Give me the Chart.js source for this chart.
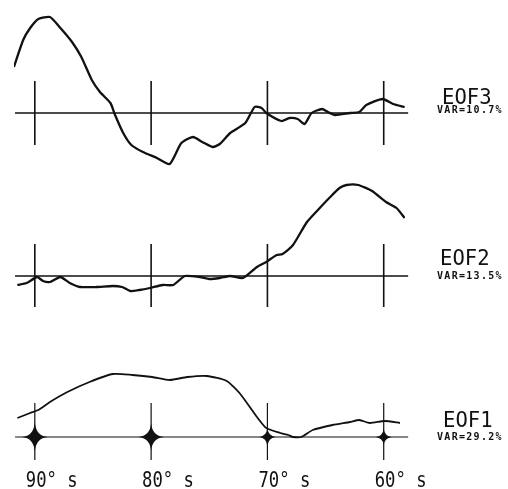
<!DOCTYPE html>
<html>
<head>
<meta charset="utf-8">
<script src="https://cdn.jsdelivr.net/npm/chart.js@4/dist/chart.umd.min.js"></script>
<style>
html,body{margin:0;padding:0;background:#fff;}
#wrap{position:relative;width:508px;height:489px;}
canvas{display:block;}
</style>
</head>
<body>
<div id="wrap"><canvas id="c" width="508" height="489"></canvas></div>
<script>
// ---- data (latitude in degrees south, EOF amplitude in arbitrary units) ----
const eof3Lat = [91.8,91.0,90.4,89.7,88.7,87.8,86.8,86.0,85.1,84.4,83.5,83.1,82.4,81.7,80.7,79.5,78.4,77.4,76.4,75.6,74.7,74.1,73.2,71.9,71.1,70.5,70.1,68.8,68.1,67.4,66.8,66.2,65.3,64.8,64.2,62.9,62.1,61.5,60.1,59.2,58.2];
const eof3Val = [4.6,7.3,8.5,9.4,9.6,8.5,7.1,5.6,3.3,2.1,1.0,-0.2,-2.0,-3.2,-3.9,-4.5,-5.1,-3.0,-2.4,-2.9,-3.4,-3.1,-2.0,-1.0,0.6,0.5,0.0,-0.8,-0.5,-0.6,-1.1,0.0,0.4,0.1,-0.2,0.0,0.1,0.8,1.4,0.9,0.6];

const eof2Lat = [91.5,90.7,89.8,89.3,88.7,87.8,87.0,86.1,84.7,83.3,82.5,81.8,81.0,80.1,79.0,78.1,77.1,75.8,75.0,74.1,73.2,72.1,70.9,70.1,69.2,68.7,67.8,66.6,65.5,64.6,63.8,63.2,62.2,61.0,59.8,58.9,58.2];
const eof2Val = [-0.9,-0.7,-0.1,-0.5,-0.6,-0.1,-0.7,-1.1,-1.1,-1.0,-1.1,-1.5,-1.4,-1.2,-0.9,-0.9,0.0,-0.1,-0.3,-0.2,0.0,-0.2,0.9,1.4,2.1,2.2,3.1,5.4,6.8,7.9,8.8,9.1,9.1,8.5,7.4,6.8,5.8];

const eof1Lat = [91.5,90.4,89.7,88.7,87.2,85.3,83.3,81.6,79.9,78.4,76.9,75.2,73.5,72.4,70.9,70.1,68.9,68.2,67.8,67.1,66.1,64.4,62.9,62.1,61.2,59.9,58.6];
const eof1Val = [1.9,2.4,2.7,3.5,4.5,5.5,6.3,6.2,6.0,5.7,6.0,6.1,5.6,4.4,2.0,0.9,0.4,0.2,0.0,0.0,0.7,1.2,1.5,1.7,1.4,1.6,1.4];

const tickLats = [90, 80, 70, 60];
const tickLabels = ["90° s", "80° s", "70° s", "60° s"];
const panelNames = ["EOF3", "EOF2", "EOF1"];
const panelVars = ["VAR=10.7%", "VAR=13.5%", "VAR=29.2%"];

// ---- build ----
const toPts = (lat, val) => lat.map((x, i) => ({x: x, y: val[i]}));
const axisIds = ["y3", "y2", "y1"];

function star(ctx, x, y, h, v) {
  const w = 1.0;
  ctx.beginPath();
  ctx.moveTo(x - h, y);
  ctx.quadraticCurveTo(x - w, y - w, x, y - v);
  ctx.quadraticCurveTo(x + w, y - w, x + h, y);
  ctx.quadraticCurveTo(x + w, y + w, x, y + v);
  ctx.quadraticCurveTo(x - w, y + w, x - h, y);
  ctx.closePath();
  ctx.fill();
}

const panelPlugin = {
  id: 'panels',
  beforeDatasetsDraw(chart) {
    const ctx = chart.ctx;
    const xs = chart.scales.x;
    const ext = [ [3.2, -3.2], [3.2, -3.1], [3.4, -2.3] ];
    ctx.save();
    ctx.strokeStyle = '#111';
    ctx.fillStyle = '#111';
    ctx.lineCap = 'butt';
    axisIds.forEach((id, p) => {
      const ys = chart.scales[id];
      const y0 = ys.getPixelForValue(0);
      ctx.lineWidth = p === 2 ? 1.2 : 1.5;
      ctx.beginPath();
      ctx.moveTo(xs.getPixelForValue(91.7), y0);
      ctx.lineTo(xs.getPixelForValue(57.9), y0);
      ctx.stroke();
      ctx.lineWidth = p === 2 ? 1.2 : 1.6;
      tickLats.forEach(t => {
        const x = xs.getPixelForValue(t);
        ctx.beginPath();
        ctx.moveTo(x, ys.getPixelForValue(ext[p][0]));
        ctx.lineTo(x, ys.getPixelForValue(ext[p][1]));
        ctx.stroke();
      });
    });
    // ink blots where the EOF1 ticks cross its zero line
    const y1 = chart.scales.y1.getPixelForValue(0);
    const sizes = [[13, 15], [13, 14], [8, 9], [8, 8]];
    tickLats.forEach((t, i) => star(ctx, xs.getPixelForValue(t), y1, sizes[i][0], sizes[i][1]));
    ctx.restore();
  },
  afterDraw(chart) {
    const ctx = chart.ctx;
    const xs = chart.scales.x;
    ctx.save();
    ctx.fillStyle = '#111';
    ctx.textBaseline = 'alphabetic';
    ctx.textAlign = 'left';
    const nameOff = [-9, -11, -10];
    const varOff = [0, 3, 3];
    const nameX = [442, 440, 443];
    axisIds.forEach((id, p) => {
      const y0 = chart.scales[id].getPixelForValue(0);
      ctx.font = '21px "DejaVu Sans Mono"';
      ctx.save();
      ctx.translate(nameX[p], y0 + nameOff[p]);
      ctx.scale(0.98, 1);
      ctx.fillText(panelNames[p], 0, 0);
      ctx.restore();
      ctx.font = 'bold 10px "DejaVu Sans Mono"';
      try { ctx.letterSpacing = '1.3px'; } catch (e) {}
      ctx.fillText(panelVars[p], 437, y0 + varOff[p]);
      try { ctx.letterSpacing = '0px'; } catch (e) {}
    });
    // bottom latitude labels
    ctx.font = '21px "DejaVu Sans Mono"';
    tickLats.forEach((t, i) => {
      const x = xs.getPixelForValue(t);
      ctx.save();
      ctx.translate(x - 9, 487);
      ctx.scale(0.82, 1);
      ctx.fillText(tickLabels[i], 0, 0);
      ctx.restore();
    });
    ctx.restore();
  }
};

new Chart(document.getElementById('c'), {
  type: 'line',
  data: {
    datasets: [
      {label: 'EOF3', data: toPts(eof3Lat, eof3Val), yAxisID: 'y3', borderColor: '#111', borderWidth: 2.3, pointRadius: 0, tension: 0.2, fill: false},
      {label: 'EOF2', data: toPts(eof2Lat, eof2Val), yAxisID: 'y2', borderColor: '#111', borderWidth: 2.3, pointRadius: 0, tension: 0.2, fill: false},
      {label: 'EOF1', data: toPts(eof1Lat, eof1Val), yAxisID: 'y1', borderColor: '#111', borderWidth: 1.8, pointRadius: 0, tension: 0.2, fill: false}
    ]
  },
  options: {
    responsive: false,
    devicePixelRatio: 1,
    animation: false,
    layout: {padding: {left: 14, right: 103, top: 0, bottom: 0}},
    plugins: {legend: {display: false}, tooltip: {enabled: false}},
    scales: {
      x: {type: 'linear', min: 58.17, max: 91.79, reverse: true, display: false},
      y3: {type: 'linear', min: -37.6, max: 11.3, display: false},
      y2: {type: 'linear', min: -21.3, max: 27.6, display: false},
      y1: {type: 'linear', min: -5.2, max: 43.7, display: false}
    }
  },
  plugins: [panelPlugin]
});
</script>
</body>
</html>
